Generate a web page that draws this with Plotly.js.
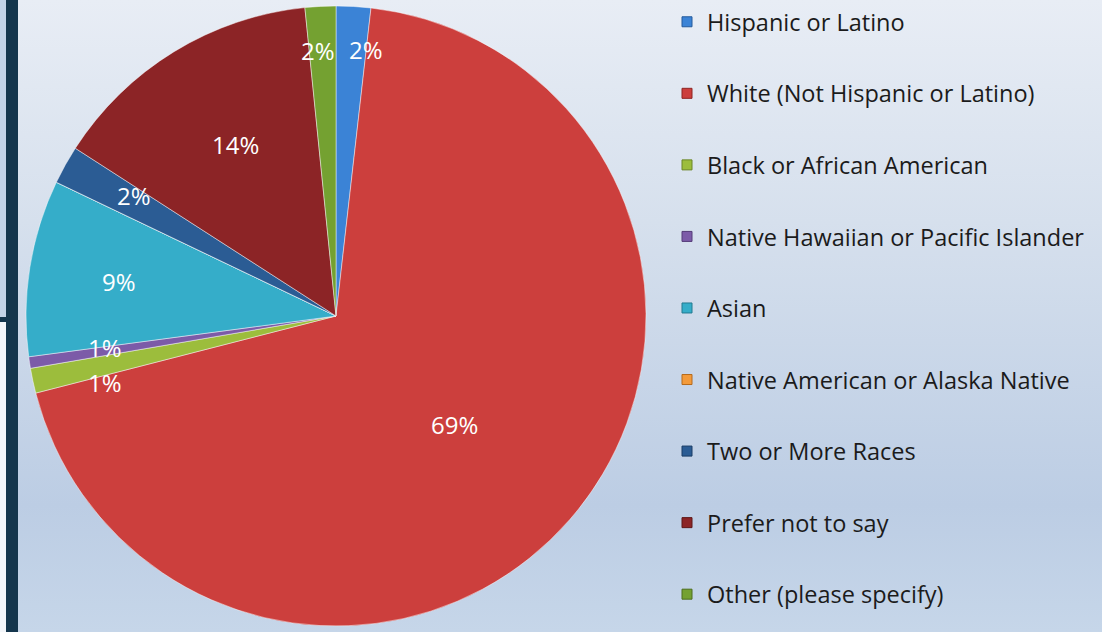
<!DOCTYPE html>
<html><head><meta charset="utf-8">
<script src="https://cdn.plot.ly/plotly-3.0.1.min.js"></script>
<style>
html,body{margin:0;padding:0;}
#chart{width:1102px;height:632px;background:linear-gradient(180deg,#e8edf5 0%,#d6e0ed 35%,#bccde4 80%,#c6d6e9 100%);}
</style></head><body><div id="chart"></div>
<script>
// ---- data ----
const categories = [
  'Hispanic or Latino',
  'White (Not Hispanic or Latino)',
  'Black or African American',
  'Native Hawaiian or Pacific Islander',
  'Asian',
  'Native American or Alaska Native',
  'Two or More Races',
  'Prefer not to say',
  'Other (please specify)'
];
const values = [1.8, 69.2, 1.3, 0.6, 9.2, 0, 2.0, 14.3, 1.6];

// ---- styles ----
const colors = ['#3b83d6', '#cc3f3d', '#9cbd3c', '#7c5ba8', '#35adc9', '#f39a3a', '#2b5c94', '#8c2426', '#74a131'];
const edgeColors = ['#245a9c', '#8f2422', '#6a8626', '#553c78', '#227a90', '#b56a1c', '#1a3c66', '#5e1616', '#4d6e1e'];
const labelRadius = [0.865, 0.52, 0.776, 0.752, 0.71, 0.7, 0.76, 0.64, 0.86];
const labelNudge  = [3.2, 1.5, -4.1, 0.9, 0, 0, 1.6, 1.2, -1.0];

const W = 1102, H = 632, CX = 336, CY = 316, R = 310;

const pie = {
  type: 'pie',
  labels: categories,
  values: values,
  sort: false,
  direction: 'clockwise',
  rotation: 0,
  textinfo: 'none',
  hoverinfo: 'label+percent',
  showlegend: false,
  marker: {colors: colors, line: {color: 'rgba(255,255,255,0.45)', width: 1}},
  domain: {x: [(CX - R) / W, (CX + R) / W], y: [(H - CY - R) / H, (H - CY + R) / H]}
};

const legendTraces = categories.map((c, i) => ({
  type: 'scatter', mode: 'markers', x: [null], y: [null],
  name: c, legendgroup: 'g' + i, showlegend: true, hoverinfo: 'skip',
  marker: {symbol: 'square', size: 10, color: colors[i], line: {color: edgeColors[i], width: 1}}
}));

const total = values.reduce((a, b) => a + b, 0);
const annotations = [];
let cum = 0;
values.forEach((v, i) => {
  const start = cum / total * 360;
  cum += v;
  const end = cum / total * 360;
  if (v <= 0) return;
  const th = ((start + end) / 2 + labelNudge[i]) * Math.PI / 180;
  const r = R * labelRadius[i];
  const px = CX + r * Math.sin(th), py = CY - r * Math.cos(th);
  annotations.push({
    xref: 'paper', yref: 'paper', x: px / W, y: 1 - py / H,
    xanchor: 'center', yanchor: 'middle', showarrow: false,
    text: Math.round(v / total * 100) + '%',
    font: {family: '"Open Sans", sans-serif', size: 24, color: '#ffffff'}
  });
});

const layout = {
  width: W, height: H,
  margin: {l: 0, r: 0, t: 0, b: 0},
  paper_bgcolor: 'rgba(0,0,0,0)',
  plot_bgcolor: 'rgba(0,0,0,0)',
  xaxis: {visible: false, domain: [0.95, 1]},
  yaxis: {visible: false},
  showlegend: true,
  legend: {
    x: 667 / W, xanchor: 'left', y: 1, yanchor: 'top',
    font: {family: '"Open Sans", sans-serif', size: 23.5, color: '#1b1b1b'},
    tracegroupgap: 38, traceorder: 'grouped', itemwidth: 30,
    bgcolor: 'rgba(0,0,0,0)', borderwidth: 0
  },
  annotations: annotations,
  shapes: [
    {type: 'rect', xref: 'paper', yref: 'paper', x0: 0, x1: 6 / W, y0: 1 - 318 / H, y1: 1, fillcolor: '#c3d3e7', line: {width: 0}},
    {type: 'rect', xref: 'paper', yref: 'paper', x0: 0, x1: 6 / W, y0: 0, y1: 1 - 322 / H, fillcolor: '#f3f6fa', line: {width: 0}},
    {type: 'rect', xref: 'paper', yref: 'paper', x0: 0, x1: 6 / W, y0: 1 - 322 / H, y1: 1 - 317 / H, fillcolor: '#15364d', line: {width: 0}},
    {type: 'rect', xref: 'paper', yref: 'paper', x0: 6 / W, x1: 18 / W, y0: 0, y1: 1, fillcolor: '#15364d', line: {width: 0}}
  ]
};

Plotly.newPlot('chart', [pie].concat(legendTraces), layout, {displayModeBar: false});
</script>
</body></html>
